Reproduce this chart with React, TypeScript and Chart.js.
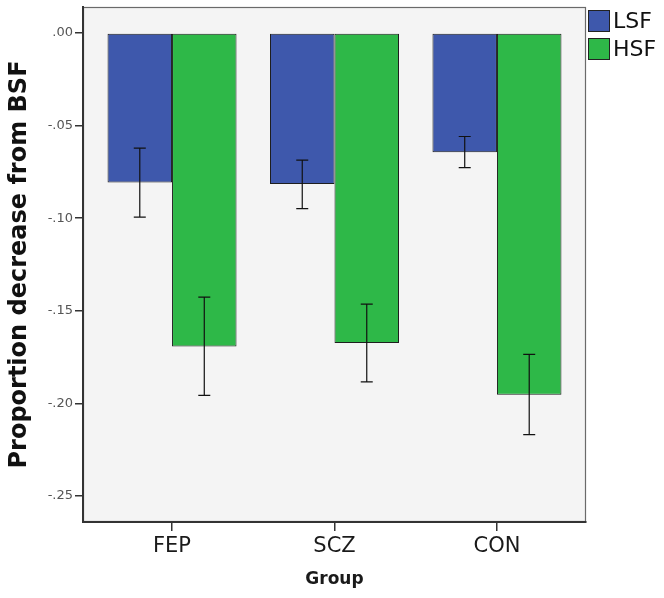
import React, { useEffect, useRef } from 'react';
import { Chart, registerables } from 'chart.js';

Chart.register(...registerables);

const CATEGORIES = ['FEP', 'SCZ', 'CON'];
const SERIES = ['LSF', 'HSF'];
const LSF_MEAN = [-0.0807, -0.0816, -0.0644];
const HSF_MEAN = [-0.1692, -0.1674, -0.1953];
const LSF_ERR_HIGH = [-0.0622, -0.0687, -0.0559];
const LSF_ERR_LOW = [-0.0994, -0.0948, -0.0727];
const HSF_ERR_HIGH = [-0.1426, -0.1464, -0.1735];
const HSF_ERR_LOW = [-0.1956, -0.1884, -0.2168];
const Y_TICKS = [0, -0.05, -0.1, -0.15, -0.2, -0.25];
const COLORS = ['#3E58AC', '#2EB848'];

const MEANS = [LSF_MEAN, HSF_MEAN];
const ERR_HIGH = [LSF_ERR_HIGH, HSF_ERR_HIGH];
const ERR_LOW = [LSF_ERR_LOW, HSF_ERR_LOW];

const FONT = '"DejaVu Sans", Verdana, sans-serif';

const fmtTick = (v: number) => {
  if (Math.abs(v) < 1e-9) return '.00';
  const s = v.toFixed(2);
  return s.replace('0.', '.');
};

const plotBg = {
  id: 'plotBg',
  beforeDraw(chart: any) {
    const { ctx, chartArea: a } = chart;
    ctx.save();
    ctx.fillStyle = '#F4F4F4';
    ctx.fillRect(a.left, a.top, a.width, a.height);
    ctx.strokeStyle = '#6a6a6a';
    ctx.lineWidth = 1.2;
    ctx.strokeRect(a.left + 0.5, a.top + 0.5, a.width - 1, a.height - 1);
    ctx.restore();
  },
};

const errorBars = {
  id: 'errorBars',
  afterDatasetsDraw(chart: any) {
    const { ctx } = chart;
    const yScale = chart.scales.y;
    ctx.save();
    ctx.strokeStyle = '#111';
    ctx.lineWidth = 1.2;
    chart.data.datasets.forEach((ds: any, k: number) => {
      const meta = chart.getDatasetMeta(k);
      meta.data.forEach((bar: any, i: number) => {
        const x = bar.x;
        const yHi = yScale.getPixelForValue(ds.errHigh[i]);
        const yLo = yScale.getPixelForValue(ds.errLow[i]);
        const cap = 6;
        ctx.beginPath();
        ctx.moveTo(x, yHi);
        ctx.lineTo(x, yLo);
        ctx.moveTo(x - cap, yHi);
        ctx.lineTo(x + cap, yHi);
        ctx.moveTo(x - cap, yLo);
        ctx.lineTo(x + cap, yLo);
        ctx.stroke();
      });
    });
    ctx.restore();
  },
};

const sideLegend = {
  id: 'sideLegend',
  afterDraw(chart: any) {
    const { ctx, chartArea: a } = chart;
    const x = a.right + 2;
    ctx.save();
    chart.data.datasets.forEach((ds: any, i: number) => {
      const y = a.top + 3 + i * 28;
      ctx.fillStyle = ds.backgroundColor;
      ctx.fillRect(x, y, 22, 22);
      ctx.strokeStyle = '#222';
      ctx.lineWidth = 1;
      ctx.strokeRect(x + 0.5, y + 0.5, 21, 21);
      ctx.fillStyle = '#111';
      ctx.font = `22px ${FONT}`;
      ctx.textBaseline = 'middle';
      ctx.textAlign = 'left';
      ctx.fillText(ds.label, x + 25, y + 12);
    });
    ctx.restore();
  },
};

export default function App() {
  const ref = useRef<HTMLCanvasElement | null>(null);

  useEffect(() => {
    if (!ref.current) return;
    const chart = new Chart(ref.current, {
      type: 'bar',
      data: {
        datasets: SERIES.map((name, k) => ({
          label: name,
          data: MEANS[k].map((v, i) => ({ x: i, y: v })),
          errHigh: ERR_HIGH[k],
          errLow: ERR_LOW[k],
          backgroundColor: COLORS[k],
          borderColor: '#1e1e1e',
          borderWidth: 1,
          borderSkipped: false,
          categoryPercentage: 0.794,
          barPercentage: 1,
        })) as any,
      },
      options: {
        animation: false,
        responsive: false,
        layout: { padding: { left: 0, top: 7, right: 78, bottom: 0 } },
        plugins: { legend: { display: false }, tooltip: { enabled: false } },
        scales: {
          x: {
            type: 'linear',
            min: -0.548,
            max: 2.548,
            offset: false,
            afterBuildTicks: (s: any) => {
              s.ticks = CATEGORIES.map((_, i) => ({ value: i }));
            },
            afterFit: (s: any) => {
              s.height = 76;
              s.paddingLeft = 0;
              s.paddingRight = 0;
            },
            ticks: {
              callback: (v: any) => CATEGORIES[v] ?? '',
              font: { family: FONT, size: 21 },
              color: '#1a1a1a',
              padding: 3,
              maxRotation: 0,
              autoSkip: false,
            },
            grid: { drawOnChartArea: false, drawTicks: true, tickLength: 9, color: '#333', lineWidth: 1.5, offset: false },
            border: { display: true, color: '#333', width: 2 },
            title: {
              display: true,
              text: 'Group',
              font: { family: FONT, size: 17, weight: 'bold' },
              color: '#1a1a1a',
              padding: { top: 0, bottom: 8 },
            },
          },
          y: {
            min: -0.264,
            max: 0.014,
            afterBuildTicks: (s: any) => {
              s.ticks = Y_TICKS.map((v) => ({ value: v }));
            },
            afterFit: (s: any) => {
              s.width = 83;
              s.paddingTop = 0;
              s.paddingBottom = 0;
            },
            ticks: {
              callback: (v: any) => fmtTick(Number(v)),
              font: { family: FONT, size: 13, lineHeight: 1 },
              color: '#555',
              padding: 2,
            },
            grid: { drawOnChartArea: false, drawTicks: true, tickLength: 8, color: '#333', lineWidth: 1.5 },
            border: { display: true, color: '#333', width: 2 },
            title: {
              display: true,
              text: 'Proportion decrease from BSF',
              font: { family: FONT, size: 24, weight: 'bold' },
              color: '#111',
              padding: { top: 5, bottom: 0 },
            },
          },
        },
      } as any,
      plugins: [plotBg, errorBars, sideLegend],
    });
    return () => chart.destroy();
  }, []);

  return (
    <div style={{ position: 'fixed', left: 0, top: 0, width: 664, height: 598, background: '#fff' }}>
      <canvas ref={ref} width={664} height={598} style={{ display: 'block' }} />
    </div>
  );
}
